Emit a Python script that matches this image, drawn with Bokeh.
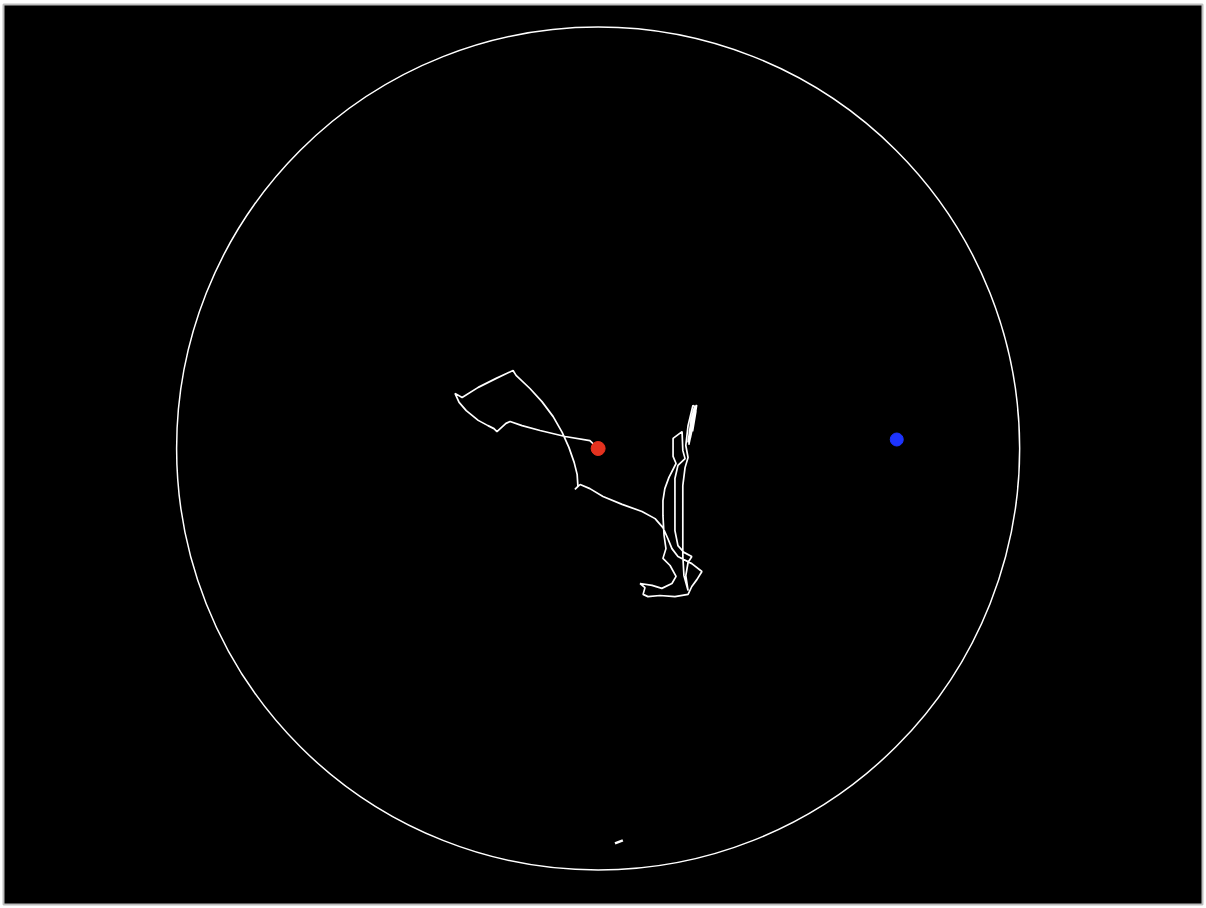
from bokeh.plotting import figure
from bokeh.models import Range1d
from bokeh.embed import file_html
from bokeh.resources import INLINE

# tracking frame is 320 x 240 camera pixels, y grows downward
frame_w = 320
frame_h = 240

# pool (arena) in camera pixels
pool_x = 158.7
pool_y = 118.4
pool_r = 112.5

# start position (red) and platform (blue)
start_x = [158.7]
start_y = [118.4]
platform_x = [238.4]
platform_y = [116.0]

# swim path, camera pixels
path_x = [
    158.7, 156.5, 149.9, 143.2, 138.4, 135.2, 134.1, 131.7, 130.9, 129.3,
    126.7, 123.5, 121.6, 120.5, 122.4, 126.7, 131.5, 136.0, 136.8, 140.5,
    143.7, 146.7, 149.1, 150.9, 152.3, 153.1, 153.3, 152.5, 153.9, 156.5,
    160.0, 165.1, 170.4, 173.9, 176.0, 177.3, 178.4, 180.0, 183.7, 186.4,
    185.1, 183.7, 182.7, 179.2, 175.2, 172.0, 170.7, 171.2, 169.9, 173.1,
    175.7, 178.4, 179.5, 177.9, 176.0, 176.8, 176.3, 176.0, 176.0, 176.5,
    177.6, 179.5, 178.7, 178.7, 181.1, 181.3, 181.9, 180.0, 179.2, 179.2,
    179.2, 179.2, 180.0, 181.6, 183.7, 182.7, 182.1, 182.7, 181.6, 181.3,
    181.3, 181.3, 181.3, 181.9, 182.7, 182.1, 182.7, 184.0, 184.5, 183.7,
    182.7, 183.5, 184.3, 185.0, 183.9, 184.8, 183.3, 184.4, 182.9,
]
path_y = [
    118.4, 116.3, 115.2, 113.6, 112.3, 111.2, 111.7, 113.9, 113.1, 112.3,
    110.9, 108.3, 106.1, 103.7, 104.8, 102.1, 99.7, 97.6, 98.9, 102.4,
    105.9, 109.9, 114.1, 118.1, 122.1, 125.3, 128.5, 129.3, 128.0, 129.1,
    131.2, 133.3, 135.2, 137.1, 139.5, 142.4, 145.1, 147.2, 149.1, 151.2,
    153.3, 155.2, 157.3, 157.9, 157.6, 157.9, 157.3, 155.5, 154.4, 154.9,
    155.7, 154.4, 152.5, 149.6, 147.7, 145.1, 141.6, 136.3, 132.3, 129.1,
    126.1, 122.4, 120.5, 115.7, 113.9, 118.9, 121.1, 122.9, 126.4, 130.9,
    135.5, 140.3, 144.3, 146.1, 147.2, 148.8, 152.3, 156.3, 152.3, 146.9,
    140.3, 133.6, 128.3, 123.5, 120.8, 117.6, 112.3, 106.9, 107.2, 112.3,
    116.8, 110.9, 107.7, 106.8, 113.8, 108.4, 115.6, 110.2, 117.4,
]

# stray detection near the bottom wall
stray_x = [163.2, 165.3]
stray_y = [223.7, 222.9]

p = figure(
    width=1204,
    height=906,
    x_range=Range1d(0, frame_w),
    y_range=Range1d(frame_h, 0),
    output_backend="svg",
    toolbar_location=None,
    min_border_left=3,
    min_border_top=4,
    min_border_right=2,
    min_border_bottom=2,
    background_fill_color="black",
    border_fill_color="white",
)
p.axis.visible = False
p.grid.visible = False
p.outline_line_color = "#bdbdbd"
p.outline_line_width = 2

p.circle(x=[pool_x], y=[pool_y], radius=pool_r, fill_alpha=0,
         line_color="white", line_width=1.5)

p.line(path_x, path_y, line_color="white", line_width=1.7)
p.line(stray_x, stray_y, line_color="white", line_width=2.5)

p.scatter(start_x, start_y, size=14, color="#e4321f")
p.scatter(platform_x, platform_y, size=13, color="#1d34ff")

open("out.html", "w").write(file_html(p, INLINE))
